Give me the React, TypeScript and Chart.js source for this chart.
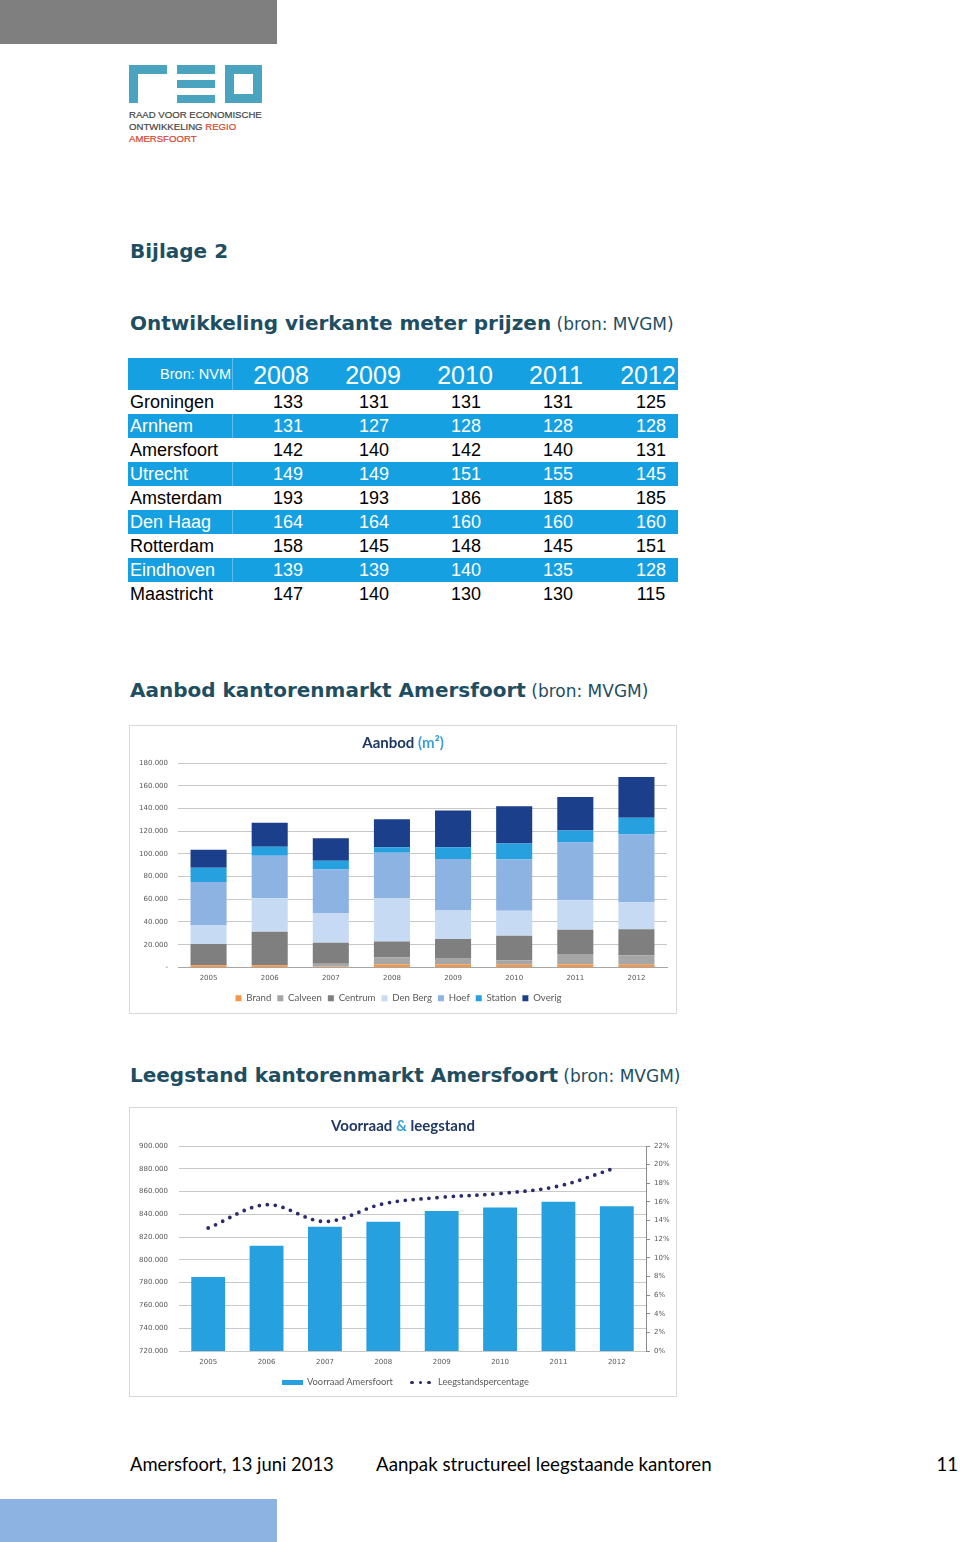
import React, { useEffect, useRef } from "react";
import { Chart, registerables } from "chart.js";

Chart.register(...registerables);

// ---------- Table: prijzen per m² (bron: NVM)
const priceYears = ["2008", "2009", "2010", "2011", "2012"];
const priceCities = ["Groningen", "Arnhem", "Amersfoort", "Utrecht", "Amsterdam", "Den Haag", "Rotterdam", "Eindhoven", "Maastricht"];
const priceGroningen = [133, 131, 131, 131, 125];
const priceArnhem = [131, 127, 128, 128, 128];
const priceAmersfoort = [142, 140, 142, 140, 131];
const priceUtrecht = [149, 149, 151, 155, 145];
const priceAmsterdam = [193, 193, 186, 185, 185];
const priceDenHaag = [164, 164, 160, 160, 160];
const priceRotterdam = [158, 145, 148, 145, 151];
const priceEindhoven = [139, 139, 140, 135, 128];
const priceMaastricht = [147, 140, 130, 130, 115];
const priceRows = [priceGroningen, priceArnhem, priceAmersfoort, priceUtrecht, priceAmsterdam, priceDenHaag, priceRotterdam, priceEindhoven, priceMaastricht];

// ---------- Chart 1: Aanbod (m²)
const aanbodYears = ["2005", "2006", "2007", "2008", "2009", "2010", "2011", "2012"];
const aanbodBrand = [1800, 1800, 800, 2600, 2600, 2300, 2600, 2300];
const aanbodCalveen = [0, 0, 2400, 6200, 5600, 4100, 9100, 8200];
const aanbodCentrum = [18700, 29500, 18500, 14000, 16700, 21400, 21400, 23200];
const aanbodDenBerg = [16400, 29600, 25700, 37800, 25100, 22000, 26000, 23700];
const aanbodHoef = [38300, 37400, 38900, 40400, 45400, 45300, 50900, 59700];
const aanbodStation = [12600, 7900, 7700, 4700, 10300, 14100, 10600, 14600];
const aanbodOverig = [15800, 21100, 19800, 24800, 32400, 32700, 29500, 36000];
const aanbodLabels = ["Brand", "Calveen", "Centrum", "Den Berg", "Hoef", "Station", "Overig"];

// ---------- Chart 2: Voorraad & leegstand
const voorraadYears = ["2005", "2006", "2007", "2008", "2009", "2010", "2011", "2012"];
const voorraadM2 = [785000, 812500, 829000, 833500, 843000, 846000, 851000, 847000];
const leegstandPct = [13.2, 15.7, 13.9, 15.8, 16.5, 16.9, 17.7, 19.7];

const BLUE = "#14a0e1";
const HEAD = "#1e4e62";
const LOGO = "#4aa3bf";
const LOGO_RED = "#d5442f";
const TICK_FONT = { family: "DejaVu Sans", size: 7 };
const TICK_COLOR = "#595959";

const fmt = (v: number) =>
  v === 0 ? "-" : String(Math.round(v)).replace(/\B(?=(\d{3})+(?!\d))/g, ".");

function AanbodChart() {
  const ref = useRef<HTMLCanvasElement>(null);
  useEffect(() => {
    const series = [aanbodBrand, aanbodCalveen, aanbodCentrum, aanbodDenBerg, aanbodHoef, aanbodStation, aanbodOverig];
    const colors = ["#f79646", "#a6a6a6", "#7f7f7f", "#c6dbf3", "#8db3e2", "#27a0e0", "#1b3f8b"];
    const chart = new Chart(ref.current as HTMLCanvasElement, {
      type: "bar",
      data: {
        labels: aanbodYears,
        datasets: series.map((d, i) => ({
          label: aanbodLabels[i],
          data: d,
          backgroundColor: colors[i],
          borderWidth: 0,
          barPercentage: 0.59,
          categoryPercentage: 1,
        })),
      },
      options: {
        animation: false,
        responsive: false,
        layout: { padding: { top: 37, right: 9, left: 0, bottom: 0 } },
        plugins: {
          legend: {
            position: "bottom",
            labels: {
              boxWidth: 6,
              boxHeight: 6,
              padding: 6,
              font: { family: "Lato", size: 9.6 },
              color: TICK_COLOR,
            },
          },
          tooltip: { enabled: false },
        },
        scales: {
          x: {
            stacked: true,
            grid: { display: false, drawTicks: false },
            border: { display: true, color: "#a6a6a6" },
            ticks: { padding: 7, font: TICK_FONT, color: TICK_COLOR },
            afterFit: (s: any) => { s.height = 20; },
          },
          y: {
            stacked: true,
            min: 0,
            max: 180000,
            grid: { color: "#c8c8c8", drawTicks: false },
            border: { display: false },
            ticks: { stepSize: 20000, padding: 10, font: TICK_FONT, color: TICK_COLOR, callback: (v: any) => fmt(Number(v)) },
            afterFit: (s: any) => { s.width = 48; },
          },
        },
      },
    } as any);
    return () => chart.destroy();
  }, []);
  return <canvas ref={ref} width={546} height={287} style={{ position: "absolute", left: 130, top: 726 }} />;
}

function VoorraadChart() {
  const ref = useRef<HTMLCanvasElement>(null);
  useEffect(() => {
    const chart = new Chart(ref.current as HTMLCanvasElement, {
      type: "bar",
      data: {
        labels: voorraadYears,
        datasets: [
          {
            type: "line",
            label: "Leegstandspercentage",
            data: leegstandPct,
            yAxisID: "y1",
            borderColor: "#2b2a6e",
            borderWidth: 3.8,
            borderDash: [0, 8],
            borderCapStyle: "round",
            pointRadius: 0,
            tension: 0.35,
            fill: false,
            order: 0,
          },
          {
            type: "bar",
            label: "Voorraad Amersfoort",
            data: voorraadM2,
            yAxisID: "y",
            backgroundColor: "#27a0e0",
            borderWidth: 0,
            barPercentage: 0.58,
            categoryPercentage: 1,
            order: 1,
          },
        ],
      },
      options: {
        animation: false,
        responsive: false,
        layout: { padding: { top: 38, right: 0, left: 0, bottom: 0 } },
        plugins: { legend: { display: false }, tooltip: { enabled: false } },
        scales: {
          x: {
            grid: { display: false, drawTicks: false },
            border: { display: false },
            ticks: { padding: 7, font: TICK_FONT, color: TICK_COLOR },
            afterFit: (s: any) => { s.height = 45; },
          },
          y: {
            position: "left",
            min: 720000,
            max: 900000,
            grid: { color: "#c8c8c8", drawTicks: false },
            border: { display: false },
            ticks: { stepSize: 20000, padding: 11, font: TICK_FONT, color: TICK_COLOR, callback: (v: any) => fmt(Number(v)) },
            afterFit: (s: any) => { s.width = 49; },
          },
          y1: {
            position: "right",
            min: 0,
            max: 22,
            grid: { drawOnChartArea: false, drawTicks: true, tickLength: 4, color: "#8c8c8c" },
            border: { display: true, color: "#8c8c8c" },
            ticks: { stepSize: 2, padding: 4, font: TICK_FONT, color: TICK_COLOR, callback: (v: any) => v + "%" },
            afterFit: (s: any) => { s.width = 30; },
          },
        },
      },
    } as any);
    return () => chart.destroy();
  }, []);
  return <canvas ref={ref} width={546} height={288} style={{ position: "absolute", left: 130, top: 1108 }} />;
}

const headCentres = [281, 373, 465, 556, 648];
const bodyCentres = [288, 374, 466, 558, 651];

function Heading({ top, bold, rest }: { top: number; bold: string; rest: string }) {
  return (
    <div style={{ position: "absolute", left: 130, top, whiteSpace: "nowrap", color: HEAD, fontFamily: "'DejaVu Sans'", lineHeight: "24px" }}>
      <span style={{ fontWeight: "bold", fontSize: 20 }}>{bold}</span>
      {rest ? <span style={{ fontSize: 17 }}>{" " + rest}</span> : null}
    </div>
  );
}

export default function App() {
  return (
    <div style={{ position: "absolute", left: 0, top: 0, width: 960, height: 1542, background: "#fff", overflow: "hidden" }}>
      {/* top & bottom bars */}
      <div style={{ position: "absolute", left: 0, top: 0, width: 277, height: 44, background: "#7f7f7f" }} />
      <div style={{ position: "absolute", left: 0, top: 1499, width: 277, height: 43, background: "#8db3e2" }} />

      {/* logo */}
      <div style={{ position: "absolute", left: 129, top: 65, width: 38, height: 9, background: LOGO }} />
      <div style={{ position: "absolute", left: 129, top: 65, width: 9, height: 38, background: LOGO }} />
      <div style={{ position: "absolute", left: 177, top: 65, width: 38, height: 9, background: LOGO }} />
      <div style={{ position: "absolute", left: 177, top: 80, width: 38, height: 8, background: LOGO }} />
      <div style={{ position: "absolute", left: 177, top: 95, width: 38, height: 8, background: LOGO }} />
      <div style={{ position: "absolute", left: 225, top: 65, width: 37, height: 38, border: `9px solid ${LOGO}`, boxSizing: "border-box" }} />
      <div style={{ position: "absolute", left: 129, top: 109, font: "9.6px 'Liberation Sans'", lineHeight: "12px", color: "#444", whiteSpace: "nowrap", WebkitTextStroke: "0.2px #444" }}>
        RAAD VOOR ECONOMISCHE<br />
        ONTWIKKELING <span style={{ color: LOGO_RED, WebkitTextStroke: `0.2px ${LOGO_RED}` }}>REGIO</span><br />
        <span style={{ color: LOGO_RED, WebkitTextStroke: `0.2px ${LOGO_RED}` }}>AMERSFOORT</span>
      </div>

      <Heading top={239} bold="Bijlage 2" rest="" />
      <Heading top={311} bold="Ontwikkeling vierkante meter prijzen" rest="(bron: MVGM)" />

      {/* table */}
      <div style={{ position: "absolute", left: 128, top: 358, width: 550, height: 32, background: BLUE, color: "#fff", fontFamily: "'Liberation Sans'" }}>
        <span style={{ position: "absolute", left: 0, width: 103, textAlign: "right", fontSize: 14.5, lineHeight: "32px" }}>Bron: NVM</span>
        <div style={{ position: "absolute", left: 104, top: 0, width: 1, height: 32, background: "rgba(255,255,255,0.3)" }} />
        {priceYears.map((y, i) => (
          <span key={y} style={{ position: "absolute", left: headCentres[i] - 128 - 40, width: 80, textAlign: "center", fontSize: 25, lineHeight: "34px" }}>{y}</span>
        ))}
      </div>
      {priceCities.map((city, r) => {
        const blue = r % 2 === 1;
        return (
          <div key={city} style={{ position: "absolute", left: 128, top: 390 + r * 24, width: 550, height: 24, background: blue ? BLUE : "transparent", color: blue ? "#fff" : "#000", fontFamily: "'Liberation Sans'", fontSize: 18, lineHeight: "25px" }}>
            <span style={{ position: "absolute", left: 2 }}>{city}</span>
            {blue ? <div style={{ position: "absolute", left: 104, top: 0, width: 1, height: 24, background: "rgba(255,255,255,0.3)" }} /> : null}
            {priceRows[r].map((v, i) => (
              <span key={i} style={{ position: "absolute", left: bodyCentres[i] - 128 - 30, width: 60, textAlign: "center" }}>{v}</span>
            ))}
          </div>
        );
      })}

      <Heading top={678} bold="Aanbod kantorenmarkt Amersfoort" rest="(bron: MVGM)" />

      {/* chart 1 */}
      <div style={{ position: "absolute", left: 129, top: 725, width: 548, height: 289, border: "1px solid #d9d9d9", boxSizing: "border-box" }} />
      <AanbodChart />
      <div style={{ position: "absolute", left: 130, top: 733, width: 546, textAlign: "center", fontFamily: "Lato", fontWeight: "bold", fontSize: 15, lineHeight: "18px", color: "#1f3864" }}>
        Aanbod <span style={{ color: "#3a9fd6" }}>(m²)</span>
      </div>

      <Heading top={1063} bold="Leegstand kantorenmarkt Amersfoort" rest="(bron: MVGM)" />

      {/* chart 2 */}
      <div style={{ position: "absolute", left: 129, top: 1107, width: 548, height: 290, border: "1px solid #d9d9d9", boxSizing: "border-box" }} />
      <VoorraadChart />
      <div style={{ position: "absolute", left: 130, top: 1116, width: 546, textAlign: "center", fontFamily: "Lato", fontWeight: "bold", fontSize: 15, lineHeight: "18px", color: "#1f3864" }}>
        Voorraad <span style={{ color: "#3a9fd6" }}>&amp;</span> leegstand
      </div>
      {/* chart 2 legend */}
      <div style={{ position: "absolute", left: 282, top: 1380, width: 21, height: 5, background: "#27a0e0" }} />
      <div style={{ position: "absolute", left: 307, top: 1376, fontFamily: "Lato", fontSize: 9.3, lineHeight: "12px", color: TICK_COLOR, whiteSpace: "nowrap" }}>Voorraad Amersfoort</div>
      {[0, 1, 2].map((k) => (
        <div key={k} style={{ position: "absolute", left: 410 + k * 8.5, top: 1380.5, width: 3.6, height: 3.6, borderRadius: "50%", background: "#2b2a6e" }} />
      ))}
      <div style={{ position: "absolute", left: 438, top: 1376, fontFamily: "Lato", fontSize: 9.3, lineHeight: "12px", color: TICK_COLOR, whiteSpace: "nowrap" }}>Leegstandspercentage</div>

      {/* footer */}
      <div style={{ position: "absolute", left: 130, top: 1453, fontFamily: "Lato", fontSize: 18.4, lineHeight: "22px", color: "#000", whiteSpace: "nowrap" }}>Amersfoort, 13 juni 2013</div>
      <div style={{ position: "absolute", left: 376, top: 1453, fontFamily: "Lato", fontSize: 18.7, lineHeight: "22px", color: "#000", whiteSpace: "nowrap" }}>Aanpak structureel leegstaande kantoren</div>
      <div style={{ position: "absolute", right: 2, top: 1453, fontFamily: "Lato", fontSize: 18.5, lineHeight: "22px", color: "#000", whiteSpace: "nowrap" }}>11</div>
    </div>
  );
}
